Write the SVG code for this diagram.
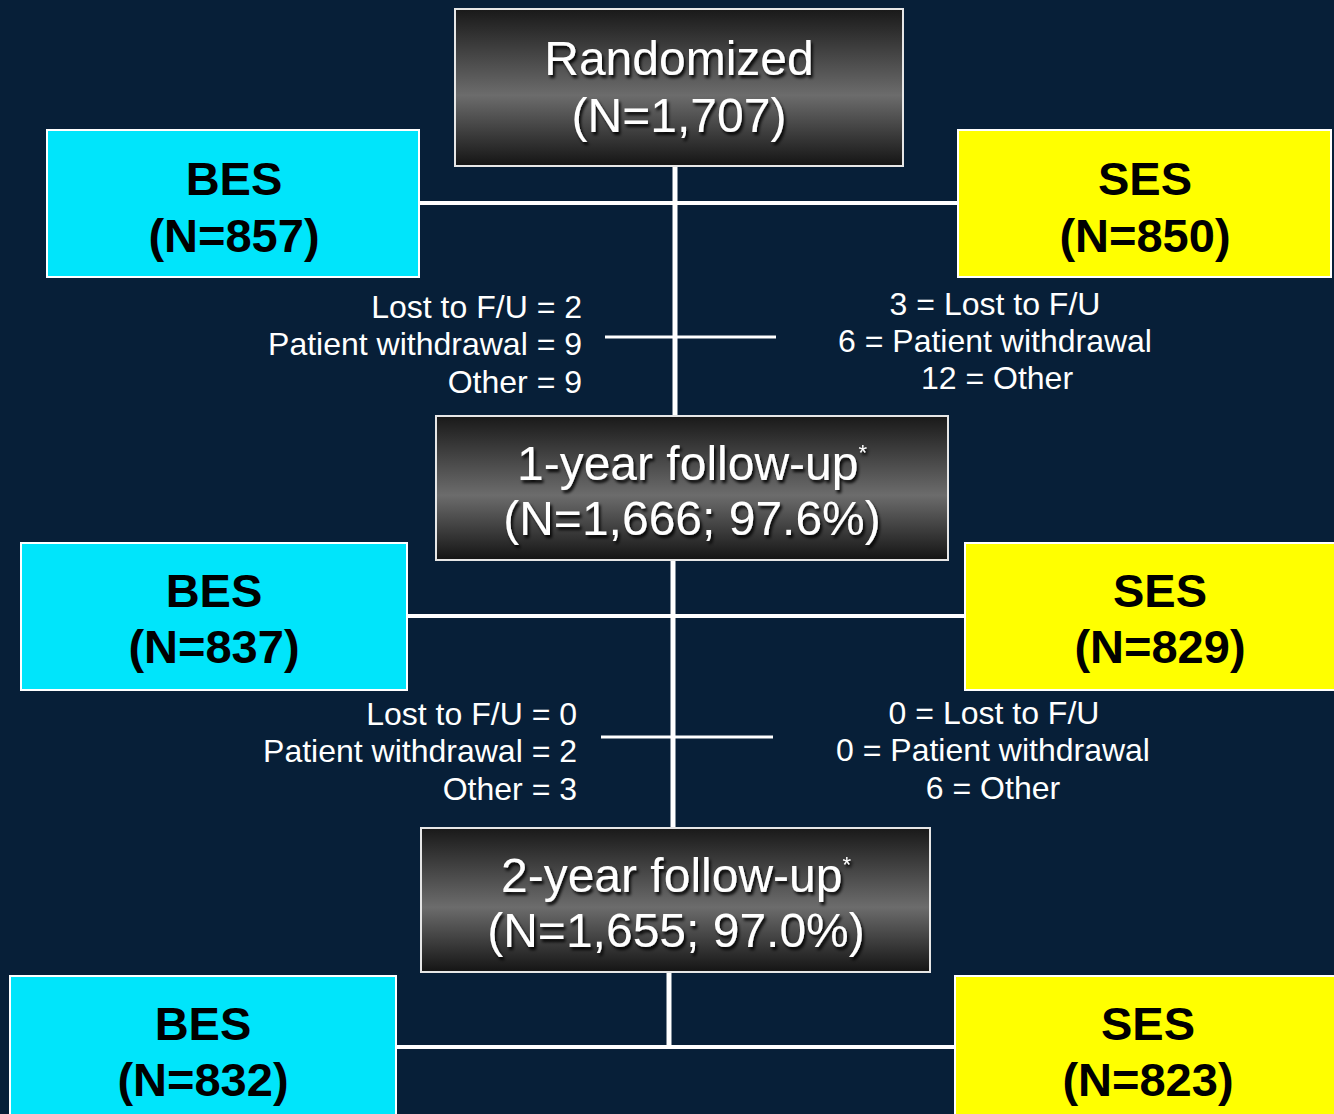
<svg xmlns="http://www.w3.org/2000/svg" width="1334" height="1114" viewBox="0 0 1334 1114">
<defs>
<linearGradient id="dg" x1="0" y1="0" x2="0" y2="1">
<stop offset="0" stop-color="#191919"/>
<stop offset="0.55" stop-color="#6c6c6c"/>
<stop offset="1" stop-color="#141414"/>
</linearGradient>
<filter id="ts" x="-10%" y="-20%" width="120%" height="140%">
<feDropShadow dx="2" dy="3" stdDeviation="1.5" flood-color="#000" flood-opacity="0.9"/>
</filter>
</defs>
<style>
.dark{fill:url(#dg);stroke:#e6e6e6;stroke-width:2}
.bes{fill:#00e5fb;stroke:#ffffff;stroke-width:2}
.ses{fill:#ffff00;stroke:#ffffff;stroke-width:2}
.dt{font-family:"Liberation Sans",Arial,sans-serif;font-size:48px;fill:#fff;text-anchor:middle;filter:url(#ts)}
.ct{font-family:"Liberation Sans",Arial,sans-serif;font-size:47px;font-weight:bold;fill:#000;text-anchor:middle}
.st{font-family:"Liberation Sans",Arial,sans-serif;font-size:32px;fill:#fff}
.sup{font-size:22px}
.ln{stroke:#fff;fill:none}
</style>
<rect width="1334" height="1114" fill="#071f38"/>
<g id="connectors">
<line class="ln" x1="675" y1="166" x2="675" y2="416" stroke-width="5"/>
<line class="ln" x1="419" y1="203" x2="958" y2="203" stroke-width="4"/>
<line class="ln" x1="605" y1="337" x2="776" y2="337" stroke-width="3"/>
<line class="ln" x1="673" y1="560" x2="673" y2="828" stroke-width="5"/>
<line class="ln" x1="407" y1="616" x2="965" y2="616" stroke-width="4"/>
<line class="ln" x1="601" y1="737" x2="773" y2="737" stroke-width="3"/>
<line class="ln" x1="669" y1="972" x2="669" y2="1047" stroke-width="5"/>
<line class="ln" x1="396" y1="1047" x2="955" y2="1047" stroke-width="4"/>
</g>
<g id="randomized">
<rect class="dark" x="455" y="9" width="448" height="157"/>
<text class="dt" x="679" y="75">Randomized</text>
<text class="dt" x="679" y="132">(N=1,707)</text>
</g>
<g id="bes1">
<rect class="bes" x="47" y="130" width="372" height="147"/>
<text class="ct" x="234" y="195">BES</text>
<text class="ct" x="234" y="252">(N=857)</text>
</g>
<g id="ses1">
<rect class="ses" x="958" y="130" width="373" height="147"/>
<text class="ct" x="1145" y="195">SES</text>
<text class="ct" x="1145" y="252">(N=850)</text>
</g>
<g id="loss1-bes">
<text class="st" x="582" y="318" text-anchor="end">Lost to F/U = 2</text>
<text class="st" x="582" y="355" text-anchor="end">Patient withdrawal = 9</text>
<text class="st" x="582" y="393" text-anchor="end">Other = 9</text>
</g>
<g id="loss1-ses">
<text class="st" x="995" y="315" text-anchor="middle">3 = Lost to F/U</text>
<text class="st" x="995" y="352" text-anchor="middle">6 = Patient withdrawal</text>
<text class="st" x="997" y="389" text-anchor="middle">12 = Other</text>
</g>
<g id="fu1">
<rect class="dark" x="436" y="416" width="512" height="144"/>
<text class="dt" x="692" y="480">1-year follow-up<tspan class="sup" dy="-20">*</tspan></text>
<text class="dt" x="692" y="535">(N=1,666; 97.6%)</text>
</g>
<g id="bes2">
<rect class="bes" x="21" y="543" width="386" height="147"/>
<text class="ct" x="214" y="607">BES</text>
<text class="ct" x="214" y="663">(N=837)</text>
</g>
<g id="ses2">
<rect class="ses" x="965" y="543" width="372" height="147"/>
<text class="ct" x="1160" y="607">SES</text>
<text class="ct" x="1160" y="663">(N=829)</text>
</g>
<g id="loss2-bes">
<text class="st" x="577" y="725" text-anchor="end">Lost to F/U = 0</text>
<text class="st" x="577" y="762" text-anchor="end">Patient withdrawal = 2</text>
<text class="st" x="577" y="800" text-anchor="end">Other = 3</text>
</g>
<g id="loss2-ses">
<text class="st" x="994" y="724" text-anchor="middle">0 = Lost to F/U</text>
<text class="st" x="993" y="761" text-anchor="middle">0 = Patient withdrawal</text>
<text class="st" x="993" y="799" text-anchor="middle">6 = Other</text>
</g>
<g id="fu2">
<rect class="dark" x="421" y="828" width="509" height="144"/>
<text class="dt" x="676" y="892">2-year follow-up<tspan class="sup" dy="-20">*</tspan></text>
<text class="dt" x="676" y="947">(N=1,655; 97.0%)</text>
</g>
<g id="bes3">
<rect class="bes" x="10" y="976" width="386" height="150"/>
<text class="ct" x="203" y="1040">BES</text>
<text class="ct" x="203" y="1096">(N=832)</text>
</g>
<g id="ses3">
<rect class="ses" x="955" y="976" width="382" height="150"/>
<text class="ct" x="1148" y="1040">SES</text>
<text class="ct" x="1148" y="1096">(N=823)</text>
</g>
</svg>
